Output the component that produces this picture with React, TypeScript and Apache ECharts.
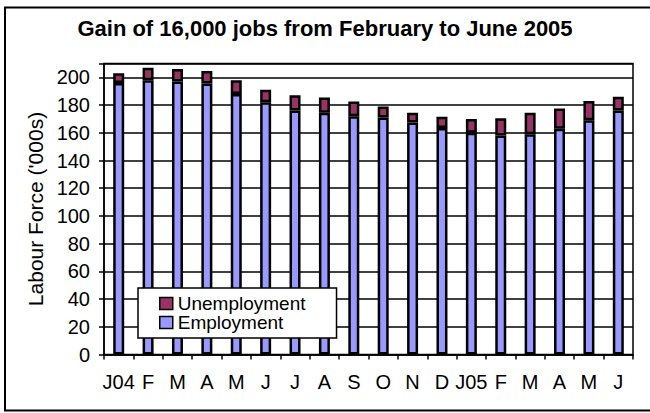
import React, { useEffect, useRef } from "react";
import * as echarts from "echarts";

const categories = ["J04", "F", "M", "A", "M", "J", "J", "A", "S", "O", "N", "D", "J05", "F", "M", "A", "M", "J"];
const employment = [196, 198, 197, 195.5, 188, 182, 176, 174.5, 172, 171, 167.5, 163.5, 160, 158, 159, 163, 169, 176];
const unemployment = [7, 9, 9, 9, 10, 9, 11, 11, 10.5, 8, 7, 8, 10, 12.5, 15.5, 14.5, 14, 10];
const yTicks = { min: 0, max: 210, interval: 20 };
const titleText = "Gain of 16,000 jobs from February to June 2005";
const yAxisName = "Labour Force ('000s)";

const FONT = "'Liberation Sans', Arial, sans-serif";

export default function App() {
  const ref = useRef<HTMLDivElement>(null);
  useEffect(() => {
    document.body.style.margin = "0";
    const chart = echarts.init(ref.current!, null, { renderer: "svg" });
    chart.setOption({
      animation: false,
      backgroundColor: "#fff",
      textStyle: { fontFamily: FONT, color: "#000" },
      title: {
        text: titleText,
        left: "center",
        top: 12,
        textStyle: { fontFamily: FONT, fontSize: 22, fontWeight: "bold", color: "#000" },
      },
      graphic: [
        {
          type: "rect",
          silent: true,
          z: 100,
          shape: { x: 5, y: 7.5, width: 660, height: 403 },
          style: { fill: "none", stroke: "#000", lineWidth: 2 },
        },
      ],
      grid: {
        left: 104,
        right: 17,
        top: 63.5,
        bottom: 58.5,
        show: true,
        borderColor: "#000",
        borderWidth: 1.5,
        backgroundColor: "transparent",
      },
      legend: {
        data: ["Unemployment", "Employment"],
        orient: "vertical",
        left: 138,
        top: 288,
        icon: "rect",
        itemWidth: 13,
        itemHeight: 12,
        itemGap: 0,
        padding: [6, 31, 6, 21],
        backgroundColor: "#fff",
        borderColor: "#000",
        borderWidth: 1.5,
        borderRadius: 0,
        textStyle: { fontFamily: FONT, fontSize: 19, color: "#000" },
        itemStyle: { borderColor: "#000", borderWidth: 1.5 },
      },
      xAxis: {
        type: "category",
        data: categories,
        boundaryGap: true,
        axisLine: { show: true, lineStyle: { color: "#000", width: 1.5 } },
        axisTick: { show: true, alignWithLabel: false, length: 5, lineStyle: { color: "#000", width: 1.5 } },
        axisLabel: { fontFamily: FONT, fontSize: 20, color: "#000", margin: 17, interval: 0 },
        splitLine: { show: false },
      },
      yAxis: {
        type: "value",
        min: yTicks.min,
        max: yTicks.max,
        interval: yTicks.interval,
        name: yAxisName,
        nameLocation: "middle",
        nameGap: 58,
        nameTextStyle: { fontFamily: FONT, fontSize: 21, color: "#000" },
        axisLine: { show: true, lineStyle: { color: "#000", width: 1.5 } },
        axisTick: { show: true, inside: false, length: 5, lineStyle: { color: "#000", width: 1.5 } },
        axisLabel: {
          fontFamily: FONT,
          fontSize: 20,
          color: "#000",
          margin: 14,
          formatter: (v: number) => (v > 200 ? "" : String(v)),
        },
        splitLine: { show: true, lineStyle: { color: "#000", width: 1.5 } },
      },
      series: [
        {
          name: "Employment",
          type: "bar",
          stack: "lf",
          data: employment,
          barWidth: 11,
          itemStyle: { color: "#9999FF", borderColor: "#000", borderWidth: 2.5 },
        },
        {
          name: "Unemployment",
          type: "bar",
          stack: "lf",
          data: unemployment,
          barWidth: 11,
          itemStyle: { color: "#993366", borderColor: "#000", borderWidth: 2.5 },
        },
      ],
    });
    return () => chart.dispose();
  }, []);
  return <div ref={ref} style={{ position: "absolute", left: 0, top: 0, width: 650, height: 413 }} />;
}
